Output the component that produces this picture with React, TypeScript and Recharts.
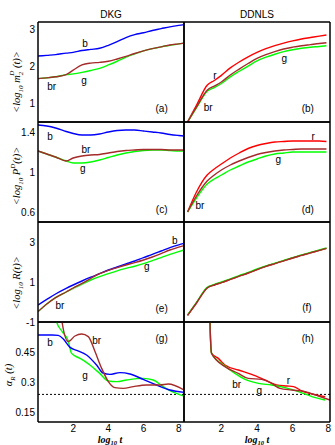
import { LineChart, Line, XAxis, YAxis, ReferenceDot, ReferenceLine } from "recharts";

// x = log10 t
const tDKG = [0, 0.5, 1, 1.6, 2, 2.5, 3, 3.5, 4, 4.5, 5, 5.5, 6, 6.5, 7, 7.5, 8, 8.3];
const tDDNLS = [0.1, 0.6, 1.2, 1.6, 2, 2.5, 3, 3.5, 4, 4.5, 5, 5.5, 6, 6.5, 7, 7.5, 7.9];

// (a) <log10 m2^D(t)>, DKG
const aB = [2.28, 2.3, 2.32, 2.36, 2.38, 2.43, 2.46, 2.49, 2.57, 2.67, 2.78, 2.86, 2.91, 2.97, 3.02, 3.07, 3.11, 3.13];
const aBr = [1.67, 1.69, 1.72, 1.78, 1.9, 2.04, 2.09, 2.11, 2.14, 2.2, 2.27, 2.35, 2.42, 2.48, 2.53, 2.58, 2.61, 2.63];
const aG = [1.67, 1.69, 1.72, 1.78, 1.8, 1.84, 1.89, 1.95, 2.04, 2.14, 2.25, 2.34, 2.42, 2.48, 2.53, 2.57, 2.61, 2.63];
// (b) DDNLS
const bR = [0.5, 0.95, 1.49, 1.62, 1.76, 1.96, 2.12, 2.26, 2.38, 2.48, 2.56, 2.63, 2.69, 2.74, 2.78, 2.82, 2.85];
const bBr = [0.5, 0.9, 1.36, 1.47, 1.58, 1.77, 1.93, 2.08, 2.22, 2.32, 2.4, 2.47, 2.52, 2.56, 2.59, 2.62, 2.64];
const bG = [0.5, 0.88, 1.33, 1.43, 1.54, 1.72, 1.87, 2.01, 2.15, 2.25, 2.33, 2.4, 2.45, 2.49, 2.52, 2.54, 2.56];
// (c) <log10 P^D(t)>, DKG
const cB = [1.47, 1.46, 1.44, 1.405, 1.385, 1.37, 1.37, 1.38, 1.4, 1.415, 1.42, 1.42, 1.41, 1.4, 1.39, 1.375, 1.365, 1.36];
const cBr = [1.21, 1.18, 1.15, 1.11, 1.14, 1.16, 1.17, 1.175, 1.19, 1.205, 1.215, 1.22, 1.225, 1.225, 1.225, 1.22, 1.22, 1.22];
const cG = [1.21, 1.18, 1.15, 1.11, 1.09, 1.09, 1.1, 1.12, 1.145, 1.17, 1.19, 1.205, 1.215, 1.22, 1.22, 1.215, 1.21, 1.21];
// (d) DDNLS
const dR = [0.6, 0.8, 0.97, 1.03, 1.08, 1.14, 1.19, 1.235, 1.265, 1.285, 1.3, 1.305, 1.31, 1.31, 1.31, 1.31, 1.305];
const dBr = [0.6, 0.76, 0.91, 0.97, 1.02, 1.07, 1.11, 1.145, 1.175, 1.195, 1.21, 1.22, 1.225, 1.23, 1.23, 1.23, 1.23];
const dG = [0.6, 0.74, 0.88, 0.93, 0.97, 1.02, 1.06, 1.1, 1.13, 1.16, 1.18, 1.19, 1.2, 1.2, 1.2, 1.2, 1.2];
// (e) <log10 R(t)>, DKG
const eB = [-0.15, 0.13, 0.4, 0.68, 0.85, 1.05, 1.24, 1.42, 1.6, 1.75, 1.9, 2.05, 2.22, 2.38, 2.55, 2.72, 2.86, 2.93];
const eBr = [-0.48, -0.1, 0.22, 0.5, 0.7, 0.93, 1.18, 1.42, 1.58, 1.72, 1.85, 1.97, 2.1, 2.25, 2.42, 2.6, 2.74, 2.82];
const eG = [-0.48, -0.1, 0.22, 0.5, 0.68, 0.9, 1.1, 1.27, 1.42, 1.56, 1.68, 1.79, 1.92, 2.07, 2.22, 2.38, 2.52, 2.6];
// (f) DDNLS
const fR = [-0.67, -0.05, 0.7, 0.85, 0.97, 1.13, 1.29, 1.45, 1.62, 1.78, 1.92, 2.06, 2.2, 2.33, 2.46, 2.58, 2.68];
const fBr = [-0.67, -0.05, 0.7, 0.85, 0.97, 1.13, 1.29, 1.45, 1.62, 1.78, 1.92, 2.06, 2.2, 2.33, 2.46, 2.58, 2.68];
const fG = [-0.64, -0.02, 0.73, 0.88, 1.0, 1.16, 1.32, 1.48, 1.65, 1.8, 1.94, 2.08, 2.22, 2.35, 2.48, 2.6, 2.7];

// (g) alpha_R(t), DKG  [log10 t, alpha]
const gB = [[0, 0.535], [0.8, 0.535], [1.15, 0.533], [1.44, 0.515], [1.82, 0.473], [2.2, 0.458], [2.76, 0.435], [3.33, 0.385], [3.7, 0.345], [4.08, 0.338], [4.66, 0.347], [5.23, 0.34], [5.98, 0.313], [6.74, 0.285], [7.5, 0.26], [8.3, 0.248]];
const gBr = [[1.1, 0.9], [1.35, 0.61], [1.72, 0.502], [2.1, 0.53], [2.48, 0.54], [2.86, 0.527], [3.24, 0.452], [3.62, 0.368], [4.0, 0.302], [4.37, 0.272], [4.85, 0.268], [5.42, 0.277], [6.17, 0.285], [6.93, 0.285], [7.4, 0.29], [8.3, 0.26]];
const gG = [[0.85, 0.9], [1.06, 0.6], [1.35, 0.555], [1.72, 0.505], [1.91, 0.443], [2.39, 0.418], [2.95, 0.385], [3.51, 0.343], [4.0, 0.305], [4.47, 0.302], [5.03, 0.31], [5.98, 0.318], [6.55, 0.31], [7.12, 0.277], [7.5, 0.257], [8.3, 0.23]];
// (h) DDNLS
const hR = [[1.3, 0.9], [1.36, 0.6], [1.45, 0.443], [1.83, 0.418], [2.2, 0.385], [2.95, 0.36], [3.7, 0.338], [4.45, 0.31], [5.1, 0.285], [5.67, 0.28], [6.05, 0.277], [6.52, 0.255], [7.08, 0.24], [7.83, 0.227]];
const hBr = [[1.3, 0.9], [1.36, 0.6], [1.45, 0.443], [2.2, 0.377], [2.95, 0.343], [3.51, 0.318], [4.26, 0.313], [4.82, 0.293], [5.29, 0.268], [5.95, 0.26], [6.7, 0.252], [7.45, 0.23], [8.1, 0.21]];
const hG = [[1.3, 0.9], [1.36, 0.6], [1.45, 0.443], [2.2, 0.38], [2.76, 0.343], [3.33, 0.313], [4.08, 0.293], [4.82, 0.285], [5.57, 0.272], [6.33, 0.252], [7.08, 0.227], [7.83, 0.21]];
const alphaRef = 0.238;

const xTicks = [2, 4, 6, 8];

const BLUE = "#0000ff";
const RED = "#ff0000";
const BROWN = "#a52a2a";
const GREEN = "#00ff00";

const zip = (xs: number[], ys: number[]) => xs.map((x, i) => ({ x, y: ys[i] }));
const pairs = (ps: number[][]) => ps.map(([x, y]) => ({ x, y }));

type Series = { data: { x: number; y: number }[]; color: string };
type Note = { x: number; y: number; text: string };

const tickFont = { fontSize: 10, fill: "#000", fontFamily: "'Liberation Sans', Arial, sans-serif" };
const frame = { stroke: "#000", strokeWidth: 1.5 };
const tickMark = { stroke: "#000", strokeWidth: 1 };

function Panel({
  left,
  top,
  series,
  xDomain,
  yDomain,
  yTicks,
  notes,
  yLabels,
  xLabels,
  refY,
}: {
  left: boolean;
  top: number;
  series: Series[];
  xDomain: number[];
  yDomain: number[];
  yTicks: number[];
  notes: Note[];
  yLabels?: boolean;
  xLabels?: boolean;
  refY?: number;
}) {
  const yw = left ? 36 : 0;
  const xh = xLabels ? 22 : 0;
  return (
    <div style={{ position: "absolute", left: left ? 0 : 182, top: top - 2 }}>
      <LineChart
        width={yw + 146 + 4}
        height={100 + 4 + xh}
        margin={{ top: 2, right: 2, bottom: 2, left: 2 }}
      >
        <XAxis
          xAxisId="x"
          type="number"
          dataKey="x"
          domain={xDomain}
          allowDataOverflow
          ticks={xTicks}
          interval={0}
          hide={!xLabels}
          height={xh}
          axisLine={false}
          tickLine={false}
          tickSize={0}
          tickMargin={3}
          tick={tickFont}
        />
        <XAxis xAxisId="xb" type="number" domain={xDomain} allowDataOverflow ticks={xTicks} interval={0} orientation="bottom" mirror tick={false} tickSize={4} axisLine={frame} tickLine={tickMark} />
        <XAxis xAxisId="xt" type="number" domain={xDomain} allowDataOverflow ticks={xTicks} interval={0} orientation="top" mirror tick={false} tickSize={4} axisLine={frame} tickLine={tickMark} />
        <YAxis
          yAxisId="y"
          type="number"
          domain={yDomain}
          allowDataOverflow
          ticks={yTicks}
          interval={0}
          hide={!yLabels}
          width={yw}
          axisLine={false}
          tickLine={false}
          tickSize={0}
          tickMargin={3}
          tick={tickFont}
        />
        <YAxis yAxisId="yl" type="number" domain={yDomain} allowDataOverflow ticks={yTicks} interval={0} orientation="left" mirror tick={false} tickSize={4} axisLine={frame} tickLine={left ? tickMark : false} />
        <YAxis yAxisId="yr" type="number" domain={yDomain} allowDataOverflow ticks={yTicks} interval={0} orientation="right" mirror tick={false} tickSize={4} axisLine={frame} tickLine={tickMark} />
        {refY !== undefined && (
          <ReferenceLine xAxisId="x" yAxisId="y" y={refY} stroke="#000" strokeWidth={1} strokeDasharray="2 2" />
        )}
        {series.map((s, i) => (
          <Line
            key={i}
            xAxisId="x"
            yAxisId="y"
            data={s.data}
            dataKey="y"
            type="monotone"
            stroke={s.color}
            strokeWidth={1.4}
            dot={false}
            isAnimationActive={false}
          />
        ))}
        {notes.map((n, i) => (
          <ReferenceDot
            key={"n" + i}
            xAxisId="x"
            yAxisId="y"
            x={n.x}
            y={n.y}
            r={0}
            fill="none"
            stroke="none"
            ifOverflow="visible"
            label={{ value: n.text, position: "center", fill: "#000", fontSize: 10 }}
          />
        ))}
      </LineChart>
    </div>
  );
}

const domL = [0, 8.3];
const domR = [-0.1, 8.1];
const domA = [0.5, 3.2];
const domC = [0.5, 1.5];
const domE = [-1, 4];
const domG = [0.1, 0.6];

export default function App() {
  return (
    <div
      style={{
        position: "absolute",
        left: 0,
        top: 0,
        width: 335,
        height: 445,
        background: "#fff",
        overflow: "hidden",
        fontFamily: "'Liberation Sans', Arial, sans-serif",
      }}
    >
      <style>{`.recharts-surface { overflow: visible; } .recharts-wrapper { overflow: visible; }`}</style>
      <Panel
        left
        yLabels
        top={22}
        xDomain={domL}
        yDomain={domA}
        yTicks={[1, 2, 3]}
        series={[
          { data: zip(tDKG, aG), color: GREEN },
          { data: zip(tDKG, aB), color: BLUE },
          { data: zip(tDKG, aBr), color: BROWN },
        ]}
        notes={[
          { x: 2.67, y: 2.62, text: "b" },
          { x: 0.78, y: 1.47, text: "br" },
          { x: 2.62, y: 1.63, text: "g" },
          { x: 7.03, y: 0.87, text: "(a)" },
        ]}
      />
      <Panel
        left={false}
        top={22}
        xDomain={domR}
        yDomain={domA}
        yTicks={[1, 2, 3]}
        series={[
          { data: zip(tDDNLS, bR), color: RED },
          { data: zip(tDDNLS, bG), color: GREEN },
          { data: zip(tDDNLS, bBr), color: BROWN },
        ]}
        notes={[
          { x: 1.64, y: 1.77, text: "r" },
          { x: 1.26, y: 0.9, text: "br" },
          { x: 5.53, y: 2.22, text: "g" },
          { x: 6.85, y: 0.87, text: "(b)" },
        ]}
      />
      <Panel
        left
        yLabels
        top={122}
        xDomain={domL}
        yDomain={domC}
        yTicks={[0.6, 1, 1.4]}
        series={[
          { data: zip(tDKG, cG), color: GREEN },
          { data: zip(tDKG, cB), color: BLUE },
          { data: zip(tDKG, cBr), color: BROWN },
        ]}
        notes={[
          { x: 0.68, y: 1.36, text: "b" },
          { x: 2.73, y: 1.227, text: "br" },
          { x: 2.54, y: 1.037, text: "g" },
          { x: 7.03, y: 0.63, text: "(c)" },
        ]}
      />
      <Panel
        left={false}
        top={122}
        xDomain={domR}
        yDomain={domC}
        yTicks={[0.6, 1, 1.4]}
        series={[
          { data: zip(tDDNLS, dR), color: RED },
          { data: zip(tDDNLS, dG), color: GREEN },
          { data: zip(tDDNLS, dBr), color: BROWN },
        ]}
        notes={[
          { x: 7.16, y: 1.36, text: "r" },
          { x: 5.2, y: 1.127, text: "g" },
          { x: 0.8, y: 0.67, text: "br" },
          { x: 6.85, y: 0.63, text: "(d)" },
        ]}
      />
      <Panel
        left
        yLabels
        top={222}
        xDomain={domL}
        yDomain={domE}
        yTicks={[-1, 1, 3]}
        series={[
          { data: zip(tDKG, eG), color: GREEN },
          { data: zip(tDKG, eB), color: BLUE },
          { data: zip(tDKG, eBr), color: BROWN },
        ]}
        notes={[
          { x: 6.18, y: 1.77, text: "g" },
          { x: 1.25, y: -0.17, text: "br" },
          { x: 7.78, y: 3.1, text: "b" },
          { x: 7.03, y: -0.32, text: "(e)" },
        ]}
      />
      <Panel
        left={false}
        top={222}
        xDomain={domR}
        yDomain={domE}
        yTicks={[-1, 1, 3]}
        series={[
          { data: zip(tDDNLS, fR), color: RED },
          { data: zip(tDDNLS, fG), color: GREEN },
          { data: zip(tDDNLS, fBr), color: BROWN },
        ]}
        notes={[{ x: 6.8, y: -0.29, text: "(f)" }]}
      />
      <Panel
        left
        yLabels
        xLabels
        top={322}
        xDomain={domL}
        yDomain={domG}
        yTicks={[0.15, 0.3, 0.45]}
        refY={alphaRef}
        series={[
          { data: pairs(gG), color: GREEN },
          { data: pairs(gB), color: BLUE },
          { data: pairs(gBr), color: BROWN },
        ]}
        notes={[
          { x: 0.68, y: 0.497, text: "b" },
          { x: 3.34, y: 0.51, text: "br" },
          { x: 2.67, y: 0.335, text: "g" },
          { x: 7.03, y: 0.52, text: "(g)" },
        ]}
      />
      <Panel
        left={false}
        xLabels
        top={322}
        xDomain={domR}
        yDomain={domG}
        yTicks={[0.15, 0.3, 0.45]}
        refY={alphaRef}
        series={[
          { data: pairs(hR), color: RED },
          { data: pairs(hG), color: GREEN },
          { data: pairs(hBr), color: BROWN },
        ]}
        notes={[
          { x: 2.86, y: 0.29, text: "br" },
          { x: 4.13, y: 0.257, text: "g" },
          { x: 5.76, y: 0.306, text: "r" },
          { x: 6.85, y: 0.52, text: "(h)" },
        ]}
      />

      <svg
        width={335}
        height={445}
        style={{ position: "absolute", left: 0, top: 0, pointerEvents: "none" }}
        fill="#000"
        fontFamily="'Liberation Serif', 'Times New Roman', serif"
        fontSize={10.5}
      >
        <text x={111} y={18.3} textAnchor="middle" fontSize={10} fontFamily="'Liberation Sans', Arial, sans-serif">
          DKG
        </text>
        <text x={257} y={18.3} textAnchor="middle" fontSize={10} fontFamily="'Liberation Sans', Arial, sans-serif">
          DDNLS
        </text>

        <text transform="translate(20 82) rotate(-90)" textAnchor="middle" fontStyle="italic">
          {"<log"}
          <tspan dy={3} fontSize={7}>10</tspan>
          <tspan dy={-3}> m</tspan>
          <tspan dy={3} fontSize={7}>2</tspan>
          <tspan dx={-4} dy={-9} fontSize={7}>D</tspan>
          <tspan dy={6}> (t)&gt;</tspan>
        </text>
        <text transform="translate(20 176) rotate(-90)" textAnchor="middle" fontStyle="italic">
          {"<log"}
          <tspan dy={3} fontSize={7}>10</tspan>
          <tspan dy={-3}> P</tspan>
          <tspan dy={-5} fontSize={7}>D</tspan>
          <tspan dy={5}>(t)&gt;</tspan>
        </text>
        <text transform="translate(20 283) rotate(-90)" textAnchor="middle" fontStyle="italic">
          {"<log"}
          <tspan dy={3} fontSize={7}>10</tspan>
          <tspan dy={-3}> R(t)&gt;</tspan>
        </text>
        <text transform="translate(12 375) rotate(-90)" textAnchor="middle" fontStyle="italic">
          {"α"}
          <tspan dy={3} fontSize={7}>R</tspan>
          <tspan dy={-3}> (t)</tspan>
        </text>

        <text x={110} y={442.5} textAnchor="middle" fontStyle="italic" fontWeight="bold" fontSize={10}>
          log
          <tspan dy={2} fontSize={6.5}>10</tspan>
          <tspan dy={-2}> t</tspan>
        </text>
        <text x={257} y={442.5} textAnchor="middle" fontStyle="italic" fontWeight="bold" fontSize={10}>
          log
          <tspan dy={2} fontSize={6.5}>10</tspan>
          <tspan dy={-2}> t</tspan>
        </text>
      </svg>
    </div>
  );
}
